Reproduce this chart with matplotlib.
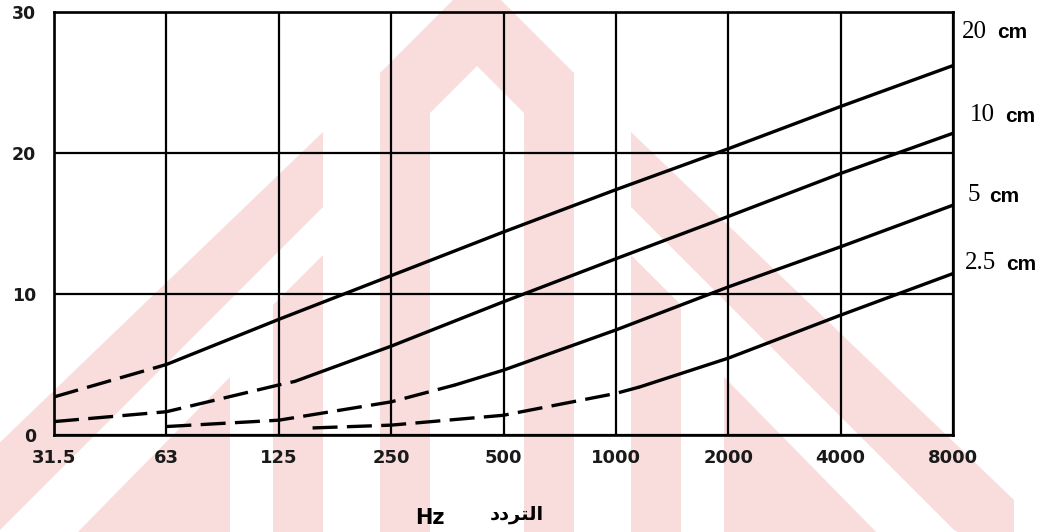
import matplotlib
matplotlib.use("Agg")
import matplotlib.pyplot as plt
from matplotlib.patches import Polygon
from matplotlib.ticker import NullLocator

# octave band centres (exact positions) and their printed labels
freq_ticks = [31.25, 62.5, 125, 250, 500, 1000, 2000, 4000, 8000]
freq_labels = ["31.5", "63", "125", "250", "500", "1000", "2000", "4000", "8000"]
y_ticks = [0, 10, 20, 30]

# curves (Hz, value); dashed part runs up to the break frequency
freq_20cm = [31.25, 62.5, 125, 250, 500, 1000, 2000, 4000, 8000]
loss_20cm = [2.7, 5.0, 8.2, 11.3, 14.4, 17.4, 20.3, 23.3, 26.2]
dash_end_20cm = 62.5

freq_10cm = [31.25, 62.5, 125, 138, 250, 500, 1000, 2000, 4000, 8000]
loss_10cm = [0.95, 1.65, 3.55, 3.8, 6.3, 9.45, 12.5, 15.5, 18.55, 21.4]
dash_end_10cm = 138

freq_5cm = [62.5, 125, 250, 371, 500, 1000, 2000, 4000, 8000]
loss_5cm = [0.6, 1.05, 2.35, 3.55, 4.6, 7.45, 10.5, 13.35, 16.3]
dash_end_5cm = 371

freq_2_5cm = [154, 250, 500, 1000, 1156, 2000, 4000, 8000]
loss_2_5cm = [0.5, 0.7, 1.4, 2.95, 3.4, 5.45, 8.5, 11.45]
dash_end_2_5cm = 1156

curve_numbers = ["20", "10", "5", "2.5"]
curve_unit = "cm"

W, H = 1056, 532
PINK = "#f9dcdc"


def px(points):
    # image pixel coords (y down) -> figure fraction
    return [(x / W, 1 - y / H) for x, y in points]


def draw_watermark(fig):
    """Faded logo behind the chart (symmetric about x=477 px)."""
    cx = 477
    left_shapes = [
        [(323, 132), (323, 207), (0, 530), (-60, 560), (-60, 500)],
        [(273, 305), (323, 255), (323, 540), (273, 540)],
        [(230, 377), (230, 540), (70, 540)],
    ]
    shapes = list(left_shapes)
    for s in left_shapes:
        shapes.append([(2 * cx - x, y) for x, y in s])
    # central arch
    shapes.append([(380, 540), (380, 73), (477, -24), (574, 73), (574, 540),
                   (524, 540), (524, 113), (477, 66), (430, 113), (430, 540)])
    for s in shapes:
        fig.add_artist(Polygon(px(s), closed=True, transform=fig.transFigure,
                               facecolor=PINK, edgecolor="none", zorder=-5))


def plot_curve(ax, freqs, vals, dash_end):
    dashed_f = [f for f in freqs if f <= dash_end]
    dashed_v = [v for f, v in zip(freqs, vals) if f <= dash_end]
    solid_f = [f for f in freqs if f >= dash_end]
    solid_v = [v for f, v in zip(freqs, vals) if f >= dash_end]
    ax.plot(dashed_f, dashed_v, color="black", lw=2.4,
            linestyle=(0, (7.5, 2.8)), dash_capstyle="butt", zorder=4)
    ax.plot(solid_f, solid_v, color="black", lw=2.4,
            solid_capstyle="round", zorder=4)


fig = plt.figure(figsize=(W / 100, H / 100), dpi=100)
fig.patch.set_facecolor("white")
draw_watermark(fig)

ax = fig.add_axes([54 / W, 1 - 435 / H, 899 / W, 423 / H])
ax.set_facecolor("none")
ax.set_xscale("log", base=2)
ax.set_xlim(31.25, 8000)
ax.set_ylim(0, 30)

ax.set_xticks(freq_ticks)
ax.set_xticklabels(freq_labels)
ax.xaxis.set_minor_locator(NullLocator())
ax.set_yticks(y_ticks)
ax.tick_params(axis="both", length=0, labelcolor="#1a1a1a")
ax.tick_params(axis="x", pad=10)
ax.tick_params(axis="y", pad=13)
for lab in ax.get_xticklabels():
    lab.set_fontfamily("DejaVu Sans")
    lab.set_fontweight("bold")
    lab.set_fontsize(13)
for lab in ax.get_yticklabels():
    lab.set_fontfamily("DejaVu Sans")
    lab.set_fontweight("bold")
    lab.set_fontsize(12.5)

ax.grid(True, color="black", lw=1.6)
ax.set_axisbelow(True)
for sp in ax.spines.values():
    sp.set_linewidth(1.9)
    sp.set_color("black")

plot_curve(ax, freq_20cm, loss_20cm, dash_end_20cm)
plot_curve(ax, freq_10cm, loss_10cm, dash_end_10cm)
plot_curve(ax, freq_5cm, loss_5cm, dash_end_5cm)
plot_curve(ax, freq_2_5cm, loss_2_5cm, dash_end_2_5cm)

# curve labels on the right: serif number + bold "cm"
label_pos = [(1.010, 28.6), (1.019, 22.7), (1.016, 17.0), (1.013, 12.2)]
trans = ax.get_yaxis_transform()
for num, (lx, ly) in zip(curve_numbers, label_pos):
    t = ax.text(lx, ly, num, transform=trans, ha="left", va="center",
                fontfamily="Liberation Serif", fontsize=18, color="black",
                clip_on=False)
    ax.annotate(curve_unit, xy=(1, 0.45), xycoords=t, xytext=(7, 0),
                textcoords="offset points", ha="left", va="center",
                fontfamily="Liberation Sans", fontweight="bold", fontsize=15,
                color="black", annotation_clip=False)

# axis title "Hz  التردد" (Arabic written in presentation forms, visual order)
fig.text(430 / W, 1 - 518 / H, "Hz", ha="center", va="center",
         fontfamily="DejaVu Sans", fontweight="bold", fontsize=15, color="black")
fig.text(517 / W, 1 - 515 / H, "\uFEA9\uFEA9\uFEAE\uFE98\uFEDF\uFE8D",
         ha="center", va="center", family=["DejaVu Sans"],
         fontweight="bold", fontsize=14, color="black")

fig.savefig("out.png", dpi=100)
